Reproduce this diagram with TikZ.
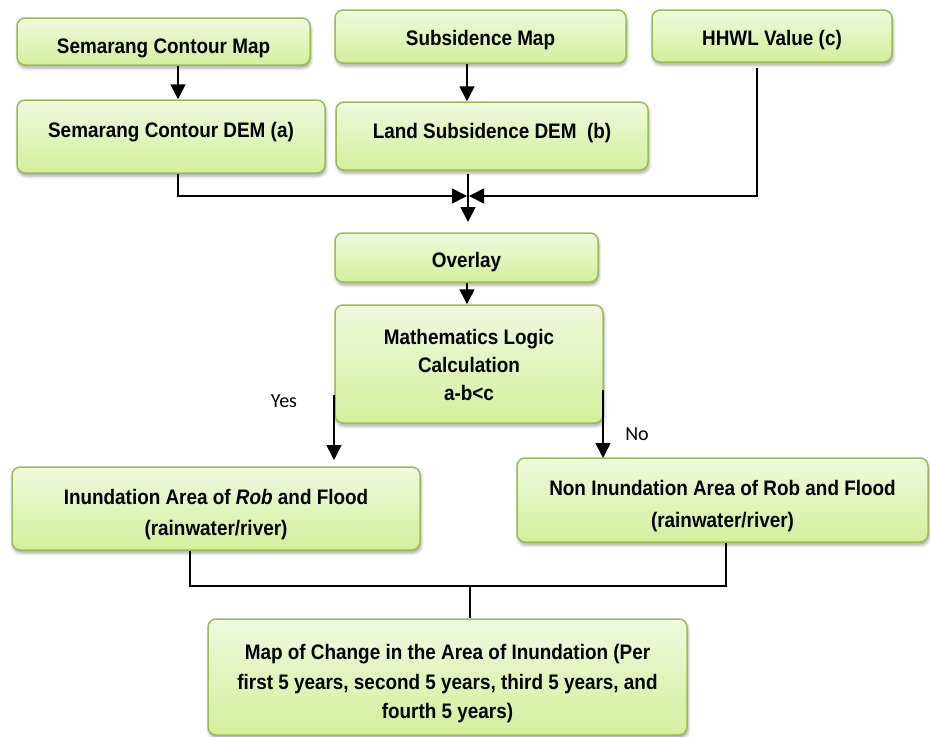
\documentclass[tikz,border=0pt]{standalone}
\usepackage{fontspec}
\setmainfont{Liberation Sans}[FakeStretch=0.9]
\newfontfamily\labelfont{Carlito}
\usetikzlibrary{arrows.meta,shadows.blur}
\definecolor{boxborder}{RGB}{155,187,89}
\definecolor{boxtop}{RGB}{240,249,222}
\definecolor{boxbot}{RGB}{212,239,155}
\begin{document}
\begin{tikzpicture}[x=1pt,y=-1pt,
  box/.style={draw=boxborder, line width=1.5pt, rounded corners=8pt,
    top color=boxtop, bottom color=boxbot,
    blur shadow={shadow xshift=1pt,shadow yshift=-3pt,shadow blur radius=3pt,shadow opacity=35},
    inner sep=0pt},
  txt/.style={font=\fontsize{21}{29.5}\selectfont\bfseries, align=center, inner sep=0pt},
  conn/.style={line width=1.6pt},
  arr/.style={conn, -{Triangle[width=15pt,length=15pt]}},
  lbl/.style={font=\labelfont\fontsize{20}{22}\selectfont, inner sep=0pt}]
\useasboundingbox (0,0) rectangle (930,737);

% boxes
\node[box, minimum width=293pt, minimum height=47pt] (scm) at (163.5,41.5) {};
\node[box, minimum width=308pt, minimum height=73pt] (scd) at (171,136.5) {};
\node[box, minimum width=291pt, minimum height=53pt] (sub) at (480.5,36.5) {};
\node[box, minimum width=312pt, minimum height=68pt] (lsd) at (492,136) {};
\node[box, minimum width=240pt, minimum height=52pt] (hhwl) at (772,36) {};
\node[box, minimum width=263pt, minimum height=49pt] (ovl) at (466.5,257.5) {};
\node[box, minimum width=268pt, minimum height=118pt] (math) at (469,364) {};
\node[box, minimum width=408pt, minimum height=83pt] (inun) at (216,508.5) {};
\node[box, minimum width=411pt, minimum height=84pt] (non) at (722.5,500) {};
\node[box, minimum width=479pt, minimum height=116pt] (fin) at (447.5,677) {};

% texts
\node[txt] (scm-t) at ([yshift=-7pt]scm.center) {Semarang Contour Map};
\node[txt] (scd-t) at ([yshift=4.5pt]scd.center) {Semarang Contour DEM (a)};
\node[txt] (sub-t) at ([yshift=-4pt]sub.center) {Subsidence Map};
\node[txt] (lsd-t) at ([yshift=2.5pt]lsd.center) {Land Subsidence DEM\ \ (b)};
\node[txt] (hhwl-t) at ([yshift=-4pt]hhwl.center) {HHWL Value (c)};
\node[txt] (ovl-t) at ([yshift=-5pt]ovl.center) {Overlay};
\node[txt, font=\fontsize{21}{28}\selectfont\bfseries] (math-t) at ([yshift=-1pt]math.center) {Mathematics Logic\\Calculation\\a-b<c};
\node[txt, font=\fontsize{21}{31}\selectfont\bfseries] (inun-t) at ([yshift=-6pt]inun.center) {Inundation Area of \textit{Rob} and Flood\\(rainwater/river)};
\node[txt, font=\fontsize{21}{32}\selectfont\bfseries] (non-t) at ([yshift=-6pt]non.center) {Non Inundation Area of Rob and Flood\\(rainwater/river)};
\node[txt] (fin-t) at ([yshift=-7pt]fin.center) {Map of Change in the Area of Inundation (Per\\first 5 years, second 5 years, third 5 years, and\\fourth 5 years)};

% labels
\node[lbl] (yes) at (284,401) {Yes};
\node[lbl] (no) at (637,434) {No};

% junction coordinates
\coordinate (jL) at (467,196);
\coordinate (jR) at (469,196);
\coordinate (jD) at (468,222);
\coordinate (jB) at (470,586);
\coordinate (yesS) at (334,395);
\coordinate (yesE) at (334,460);
\coordinate (noS) at (603,390);
\coordinate (noE) at (603,458);

% connectors
\draw[arr] ([xshift=14.5pt]scm.south) -- ([xshift=7pt]scd.north);
\draw[arr] ([xshift=-13.5pt]sub.south) -- ([xshift=-25pt]lsd.north);
\draw[arr] ([xshift=7pt]scd.south) |- (jL);
\draw[arr] ([xshift=-15pt,yshift=-5pt]hhwl.south) |- (jR);
\draw[arr] ([xshift=-24pt,yshift=-3pt]lsd.south) -- (jD);
\draw[arr] ([xshift=0.5pt]ovl.south) -- ([xshift=-2pt]math.north);
\draw[arr] (yesS) -- (yesE);
\draw[arr] (noS) -- (noE);
\draw[conn] ([xshift=-26pt]inun.south) |- (jB) -| ([xshift=3.5pt]non.south);
\draw[conn] (jB) -- (jB |- fin.north);
\end{tikzpicture}
\end{document}
